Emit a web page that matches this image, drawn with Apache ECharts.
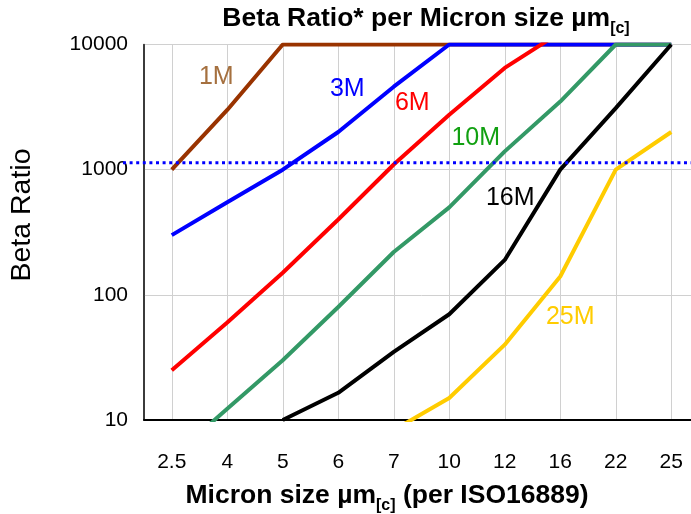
<!DOCTYPE html>
<html><head><meta charset="utf-8">
<script src="https://cdn.jsdelivr.net/npm/echarts@6/dist/echarts.min.js"></script>
<style>html,body{margin:0;padding:0;background:#fff;overflow:hidden}#c{width:702px;height:514px}</style>
</head><body><div id="c"></div>
<script>
// ---- data ----
const categories = ['2.5','4','5','6','7','10','12','16','22','25'];
const yTicks = [10, 100, 1000, 10000];
const seriesNames = ['1M','3M','6M','10M','16M','25M'];
const s1M  = [1000, 3000, 10000, 10000, 10000, 10000, 10000, 10000, 10000, 10000];
const s3M  = [300, 550, 1000, 2000, 4600, 10000, 10000, 10000, 10000, 10000];
const s6M  = [25, 60, 150, 400, 1100, 2750, 6500, 12500, null, null];
const s10M = [5, 12.3, 30, 80, 220, 500, 1400, 3500, 10000, 10000];
const s16M = [null, null, 10, 16.5, 35, 70, 190, 1000, 3100, 10000];
const s25M = [null, null, null, null, 8.3, 15, 40, 140, 1000, 2000];
const dottedLevel = 1135;

// ---- styles ----
const FF = '"Liberation Sans", Arial, sans-serif';
const lineColors  = ['#993300','#0000ff','#ff0000','#339966','#000000','#ffcc00'];
const labelColors = ['#a5703f','#0000ff','#ff0000','#11a011','#000000','#ffcc00'];
const labelIdx = [1, 3, 5, 6, 7, 7];
const labelOffsets = [[-11,-33],[9,-43],[-37,-12],[-29,-13],[-50,28],[10,41]];
const allData = [s1M, s3M, s6M, s10M, s16M, s25M];

const series = allData.map((arr, k) => ({
  name: seriesNames[k],
  type: 'line',
  xAxisIndex: 0, yAxisIndex: 0,
  data: arr.map((v, i) => i === labelIdx[k] ? {
    value: v,
    label: { show: true, formatter: seriesNames[k], position: 'inside', offset: labelOffsets[k],
             color: labelColors[k], fontSize: 25, fontFamily: FF, opacity: 1 }
  } : v),
  showSymbol: true, showAllSymbol: true,
  symbol: 'circle', symbolSize: 1,
  itemStyle: { color: 'rgba(0,0,0,0)', borderWidth: 0 },
  label: { show: false },
  lineStyle: { color: lineColors[k], width: 4 },
  connectNulls: false,
  clip: true,
  emphasis: { disabled: true },
  z: 3 + k * 0.01
}));

series.push({
  type: 'line', xAxisIndex: 1, yAxisIndex: 1,
  data: [[0, dottedLevel], [1, dottedLevel]],
  symbol: 'none',
  lineStyle: { color: '#0000ff', width: 3, type: [3, 3.6] },
  emphasis: { disabled: true },
  z: 4
});

const chart = echarts.init(document.getElementById('c'), null, { renderer: 'canvas' });
chart.setOption({
  animation: false,
  backgroundColor: '#ffffff',
  grid: [
    { left: 144, top: 44.5, width: 555, height: 375.5, show: true, borderColor: '#404040', borderWidth: 1, backgroundColor: 'transparent' },
    { left: 123, top: 44.5, width: 577, height: 375.5, show: false }
  ],
  xAxis: [
    { type: 'category', gridIndex: 0, data: categories, boundaryGap: true,
      axisLine: { show: true, lineStyle: { color: '#000', width: 2 } },
      axisTick: { show: false, alignWithLabel: true, interval: 0 },
      axisLabel: { interval: 0, fontSize: 21, color: '#000', margin: 32, fontFamily: FF },
      splitLine: { show: true, alignWithLabel: true, interval: 0, lineStyle: { color: '#d0d0d0', width: 1 } },
      z: 2 },
    { type: 'value', gridIndex: 1, min: 0, max: 1, show: false }
  ],
  yAxis: [
    { type: 'log', logBase: 10, gridIndex: 0, min: 10, max: 10000,
      axisLine: { show: true, lineStyle: { color: '#1a1a1a', width: 1.5 } },
      axisTick: { show: false },
      axisLabel: { fontSize: 21, color: '#000', margin: 16, fontFamily: FF,
        formatter: v => { const r = Math.round(v); return yTicks.includes(r) ? String(r) : ''; } },
      splitLine: { show: true, lineStyle: { color: '#d0d0d0', width: 1 } },
      z: 2 },
    { type: 'log', logBase: 10, gridIndex: 1, min: 10, max: 10000, show: false }
  ],
  series: series,
  graphic: [
    { type: 'text', x: 426, y: 18.5, z: 10,
      style: { text: 'Beta Ratio* per Micron size µm{sub|[c]}', textAlign: 'center', textVerticalAlign: 'middle',
        fontSize: 26.5, fontWeight: 'bold', fontFamily: FF, fill: '#000', lineHeight: 30,
        rich: { sub: { fontSize: 16, fontWeight: 'bold', fontFamily: FF, fill: '#000', verticalAlign: 'bottom', lineHeight: 16, padding: [0, 0, -3, 0] } } } },
    { type: 'text', x: 387, y: 496, z: 10,
      style: { text: 'Micron size µm{sub|[c]} (per ISO16889)', textAlign: 'center', textVerticalAlign: 'middle',
        fontSize: 26.5, fontWeight: 'bold', fontFamily: FF, fill: '#000', lineHeight: 30,
        rich: { sub: { fontSize: 16, fontWeight: 'bold', fontFamily: FF, fill: '#000', verticalAlign: 'bottom', lineHeight: 16, padding: [0, 0, -3, 0] } } } },
    { type: 'text', x: 22, y: 215, rotation: Math.PI / 2, z: 10,
      style: { text: 'Beta Ratio', textAlign: 'center', textVerticalAlign: 'middle',
        fontSize: 28.5, fontFamily: FF, fill: '#000' } }
  ]
});
</script>
</body></html>
